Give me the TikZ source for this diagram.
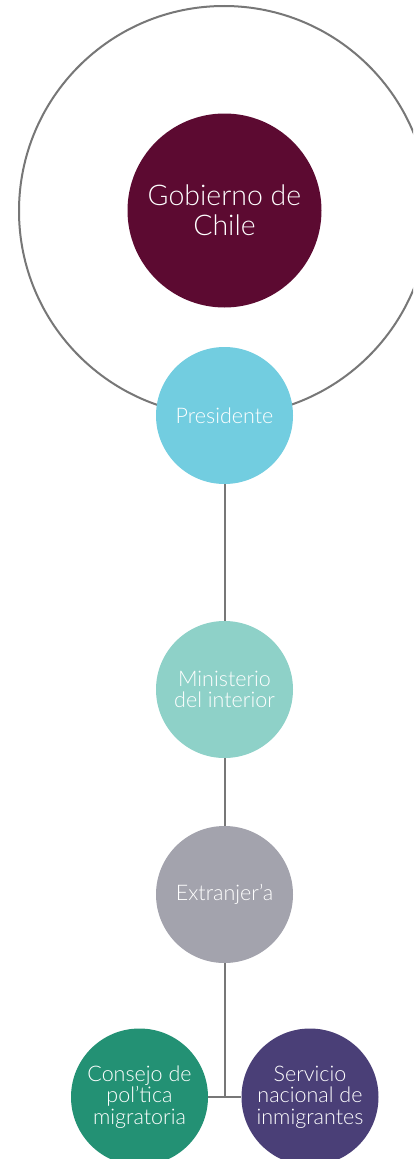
\documentclass[tikz,border=0pt]{standalone}
\usepackage{fontspec}
\setmainfont{Lato Light}
\definecolor{gob}{HTML}{5C0A31}
\definecolor{pres}{HTML}{72CDE0}
\definecolor{mini}{HTML}{8ED1C8}
\definecolor{extr}{HTML}{A3A3AD}
\definecolor{cons}{HTML}{239174}
\definecolor{serv}{HTML}{4A3F77}
\definecolor{edge}{HTML}{777777}
\tikzset{
  org/.style={circle, draw=none, inner sep=0pt, minimum size=137pt, text=white, align=center,
    font=\fontsize{21.5}{21.5}\selectfont},
  link/.style={draw=edge, line width=2pt},
}
\begin{document}
\begin{tikzpicture}[x=1pt,y=-1pt]
\useasboundingbox (0,0) rectangle (413,1159);
\clip (0,0) rectangle (413,1159);
\fill[white] (0,0) rectangle (413,1159);
\draw[edge, line width=2pt] (224,211) circle[radius=205pt];
\node[org, fill=gob, minimum size=194pt, font=\fontsize{28.5}{30}\selectfont] (gob) at (224.5,210.5) {Gobierno de\\Chile};
\node[org, fill=pres] (pres) at (224.5,415.5) {Presidente};
\node[org, fill=mini] (mini) at (224.5,689.5) {Ministerio\\del interior};
\node[org, fill=extr] (extr) at (224.5,894.5) {Extranjer’a};
\node[org, fill=cons] (cons) at (139.5,1097) {Consejo de\\pol’tica\\migratoria};
\node[org, fill=serv] (serv) at (310,1097) {Servicio\\nacional de\\inmigrantes};
\coordinate (join) at (224.5,1097);
\path[link] (pres.south) -- (mini.north);
\path[link] (mini.south) -- (extr.north);
\path[link] (extr.south) -- (join);
\path[link] (cons.east) -- (serv.west);
\end{tikzpicture}
\end{document}
